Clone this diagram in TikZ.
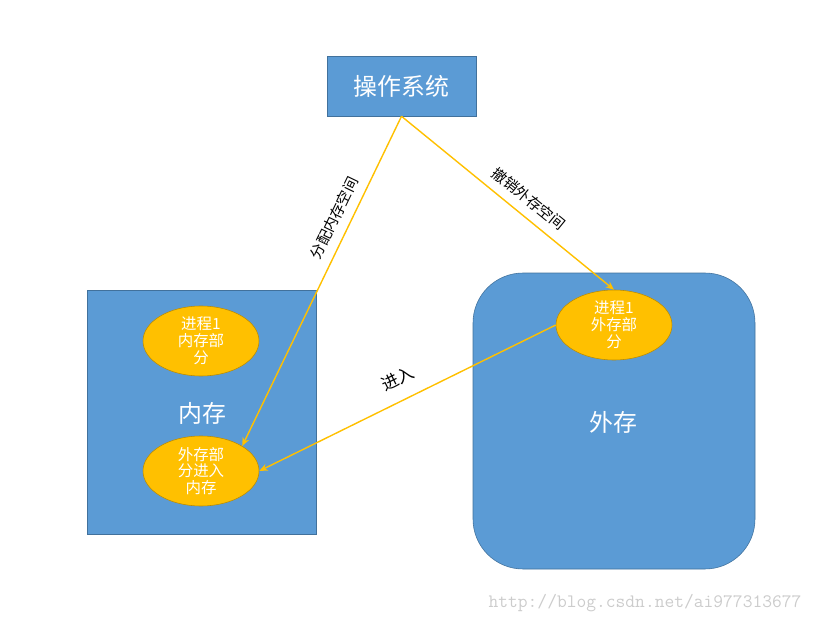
\documentclass[tikz,border=0pt]{standalone}
\usepackage{fontspec}
\setmainfont{Noto Sans CJK SC}
\usetikzlibrary{shapes,positioning,arrows.meta}
\definecolor{boxblue}{HTML}{5B9BD5}
\definecolor{boxline}{HTML}{41719C}
\definecolor{procorange}{HTML}{FFC000}
\definecolor{procline}{HTML}{BC8C00}
\begin{document}
\begin{tikzpicture}[
    x=0.025cm, y=-0.025cm,
    MBox/.style={
        draw=boxline,
        fill=boxblue,
        text=white,
        inner sep=0pt
    },
    Proc/.style={
        ellipse,
        draw=procline,
        fill=procorange,
        text=white,
        minimum width=116*0.025cm,
        minimum height=70*0.025cm,
        inner sep=0pt,
        align=center,
        font=\fontsize{11}{12}\selectfont
    },
    Flow/.style={
        -{Stealth[length=6pt,width=5pt]},
        procorange,
        line width=1pt
    },
    Lbl/.style={
        text=black,
        font=\fontsize{10.5}{12}\selectfont
    }
    ]
    \useasboundingbox (0,0) rectangle (816,623);
    \node[MBox,minimum width=149*0.025cm,minimum height=60*0.025cm,font=\fontsize{17}{19}\selectfont] (os) at (401.5,86) {操作系统};
    \node[MBox,minimum width=229*0.025cm,minimum height=244*0.025cm] (mem) at (201.5,412) {};
    \node[MBox,rounded corners=50*0.025cm,minimum width=282*0.025cm,minimum height=296*0.025cm] (disk) at (614,421) {};
    \node[text=white,font=\fontsize{17}{19}\selectfont] (memlbl) at (202,413) {内存};
    \node[text=white,font=\fontsize{17}{19}\selectfont] (disklbl) at (613,422) {外存};
    \node[Proc] (pmem) at (201,341) {进程1\\内存部\\分};
    \node[Proc] (pin) at (201,471) {外存部\\分进入\\内存};
    \node[Proc] (pdisk) at (614,325) {进程1\\外存部\\分};

    \draw[Flow] (os.south) -- (pin.north east) node[Lbl,sloped,above=3pt,pos=0.33] {分配内存空间};
    \draw[Flow] (os.south) -- (pdisk.north) node[Lbl,sloped,above=3pt,pos=0.55] {撤销外存空间};
    \draw[Flow] (pdisk.west) -- (pin.east) node[Lbl,sloped,above=6pt,pos=0.5,font=\fontsize{12}{14}\selectfont] {进入};

    \node[text=black!20,font=\ttfamily\fontsize{13.5}{14}\selectfont] (mark) at (645,603) {http://blog.csdn.net/ai977313677};
\end{tikzpicture}
\end{document}
